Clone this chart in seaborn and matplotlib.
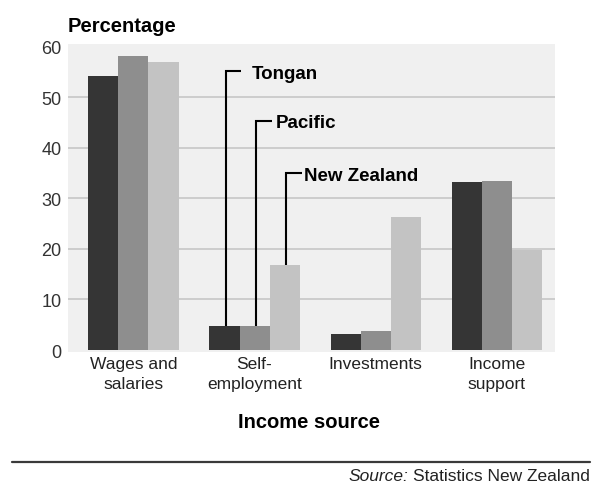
import matplotlib
matplotlib.use("Agg")
import matplotlib.pyplot as plt
from matplotlib.lines import Line2D
import pandas as pd
import seaborn as sns

# Income source shares (%) by population group
categories = ["Wages and\nsalaries", "Self-\nemployment", "Investments", "Income\nsupport"]
groups = ["Tongan", "Pacific", "New Zealand"]
tongan = [54.2, 4.7, 3.1, 33.2]
pacific = [58.1, 4.7, 3.8, 33.5]
new_zealand = [56.9, 16.9, 26.4, 19.8]
y_ticks = [0, 10, 20, 30, 40, 50, 60]

colors = ["#353535", "#8e8e8e", "#c3c3c3"]
# heights at which the callout labels sit, one per group
label_levels = [55.15, 45.4, 35.0]
# gap between the end of each callout arm and its label (points)
label_gaps = [7.5, 3.2, 2.0]

rows = []
for grp, vals in zip(groups, [tongan, pacific, new_zealand]):
    for cat, v in zip(categories, vals):
        rows.append({"source": cat, "group": grp, "pct": v})
df = pd.DataFrame(rows)

sns.set_style("white")
plt.rcParams["font.family"] = ["Liberation Sans", "DejaVu Sans"]

fig = plt.figure(figsize=(5.95, 4.85), dpi=100)
ax = fig.add_axes([68 / 595, 1 - 353.3 / 485, (555 - 68) / 595, (353.3 - 45) / 485])
ax.set_facecolor("#f0f0f0")

sns.barplot(data=df, x="source", y="pct", hue="group", hue_order=groups,
            order=categories, palette=colors, width=0.745, saturation=1,
            linewidth=0, legend=False, ax=ax, zorder=3)

ax.set_xlim(-0.54, 3.48)
ax.set_ylim(-0.45, 60.55)
ax.set_yticks(y_ticks)
ax.yaxis.grid(True, color="#cdcdcd", linewidth=1.4, zorder=0)
ax.xaxis.grid(False)
ax.set_axisbelow(True)
# the plot frame itself marks 0 and 60, so only inner grid lines are shown
gl = ax.get_ygridlines()
gl[0].set_visible(False)
gl[-1].set_visible(False)
for s in ax.spines.values():
    s.set_visible(False)
ax.tick_params(axis="both", length=0)
ax.tick_params(axis="y", pad=4.5, labelsize=13, labelcolor="#333333")
ax.tick_params(axis="x", pad=2.5, labelsize=12.5, labelcolor="#222222")
for lab in ax.get_xticklabels():
    lab.set_linespacing(1.4)
ax.set_xlabel("")
ax.set_ylabel("")

# Callouts pointing at the Self-employment bars
n_cat = len(categories)
arm = 0.125
for i, grp in enumerate(groups):
    patch = ax.patches[i * n_cat + 1]
    x = patch.get_x() + patch.get_width() / 2 + 0.015
    top = patch.get_height()
    lvl = label_levels[i]
    ax.plot([x, x, x + arm], [top, lvl, lvl], color="black", lw=1.5,
            solid_joinstyle="miter", solid_capstyle="butt", zorder=5)
    ax.annotate(grp, xy=(x + arm, lvl), xytext=(label_gaps[i], -4.9),
                textcoords="offset points", ha="left", va="baseline",
                fontsize=13.5, fontweight="bold", color="black", zorder=6)

fig.text(68 / 595, 1 - 31.5 / 485, "Percentage", ha="left", va="baseline",
         fontsize=14.5, fontweight="bold", color="black")
fig.text(309 / 595, 1 - 428 / 485, "Income source", ha="center", va="baseline",
         fontsize=14.5, fontweight="bold", color="black")

fig.add_artist(Line2D([12 / 595, 590 / 595], [1 - 463.3 / 485] * 2,
                      transform=fig.transFigure, color="#3a3a3a", lw=1.6))

src = fig.text(590 / 595, 1 - 484.5 / 485, "Statistics New Zealand", ha="right",
               va="bottom", fontsize=12.5, color="#222222")
ax.annotate("Source:", xy=(0, 0), xycoords=src, xytext=(-3.5, 0),
            textcoords="offset points", ha="right", va="bottom",
            fontsize=12.5, fontstyle="italic", color="#222222",
            annotation_clip=False)

fig.savefig("out.png", dpi=100)
